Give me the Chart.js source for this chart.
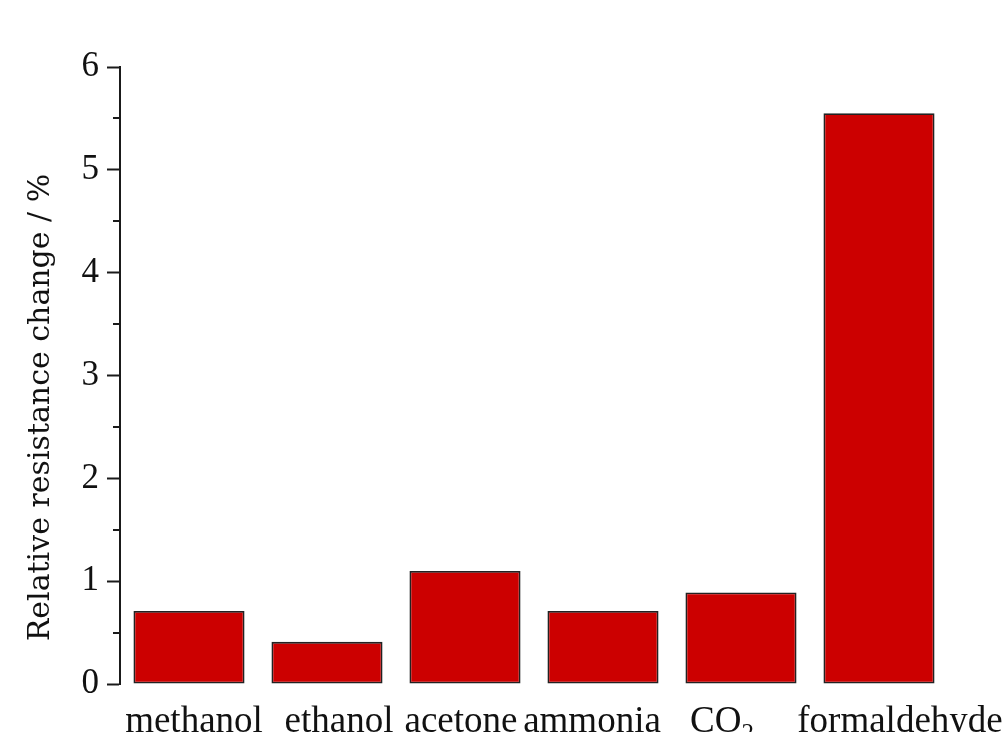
<!DOCTYPE html>
<html>
<head>
<meta charset="utf-8">
<script src="https://cdn.jsdelivr.net/npm/chart.js@4.4.1/dist/chart.umd.min.js"></script>
<style>
  html, body { margin: 0; padding: 0; background: #ffffff; overflow: hidden; }
  #wrap { width: 1003px; height: 732px; }
</style>
</head>
<body>
<div id="wrap"><canvas id="chart" width="1003" height="732"></canvas></div>
<script>
// Gas species tested and the sensor response to each
const gases = ['methanol', 'ethanol', 'acetone', 'ammonia', 'CO\u2082', 'formaldehyde'];
const response = [0.71, 0.41, 1.10, 0.71, 0.89, 5.55];
const yTicks = [0, 1, 2, 3, 4, 5, 6];
const yTitle = 'Relative resistance change / %';

const axisColor = '#1a1a1a';
const textColor = '#111111';
const labelFont = '37px "Liberation Serif"';
const subFont = '25px "Liberation Serif"';
// small hand-placed horizontal nudges for the category names
const labelNudge = [5, 12, -4, -11, -19, 21];

// Short half-step ticks on the left axis
const minorTicks = {
  id: 'minorTicks',
  afterDraw(chart) {
    const y = chart.scales.y;
    const ctx = chart.ctx;
    ctx.save();
    ctx.strokeStyle = axisColor;
    ctx.lineWidth = 2;
    y.ticks.forEach(t => {
      if (Number.isInteger(t.value)) return;
      const py = Math.round(y.getPixelForValue(t.value));
      ctx.beginPath();
      ctx.moveTo(y.right - 7, py);
      ctx.lineTo(y.right, py);
      ctx.stroke();
    });
    ctx.restore();
  }
};

// Category names (with a proper subscript for CO2) and the rotated y title
const axisText = {
  id: 'axisText',
  afterDraw(chart) {
    const ctx = chart.ctx;
    const x = chart.scales.x;
    const area = chart.chartArea;
    ctx.save();
    ctx.fillStyle = textColor;
    ctx.textBaseline = 'alphabetic';
    const baseY = area.bottom + 48;
    gases.forEach((name, i) => {
      const cx = x.getPixelForValue(i) + labelNudge[i];
      const m = name.match(/^(.*?)([\u2080-\u2089]+)$/);
      if (m) {
        const base = m[1];
        const sub = m[2].replace(/[\u2080-\u2089]/g, c => String(c.charCodeAt(0) - 0x2080));
        ctx.font = labelFont;
        const wb = ctx.measureText(base).width;
        ctx.font = subFont;
        const ws = ctx.measureText(sub).width;
        const left = cx - (wb + ws) / 2;
        ctx.textAlign = 'left';
        ctx.font = labelFont;
        ctx.fillText(base, left, baseY);
        ctx.font = subFont;
        ctx.fillText(sub, left + wb, baseY + 9);
      } else {
        ctx.textAlign = 'center';
        ctx.font = labelFont;
        ctx.fillText(name, cx, baseY);
      }
    });
    // y axis title
    ctx.translate(41, (area.top + area.bottom) / 2 + 32);
    ctx.rotate(-Math.PI / 2);
    ctx.textAlign = 'center';
    ctx.textBaseline = 'middle';
    ctx.font = '30px "DejaVu Serif"';
    ctx.fillText(yTitle, 0, 0);
    ctx.restore();
  }
};

new Chart(document.getElementById('chart'), {
  type: 'bar',
  data: {
    labels: gases,
    datasets: [{
      data: response,
      backgroundColor: '#cc0000',
      borderColor: '#222222',
      borderWidth: 1.8,
      borderSkipped: false,
      categoryPercentage: 1.0,
      barPercentage: 0.805
    }]
  },
  options: {
    responsive: false,
    animation: false,
    layout: { padding: { top: 67, right: 55, left: 0, bottom: 0 } },
    plugins: { legend: { display: false }, tooltip: { enabled: false } },
    scales: {
      x: {
        offset: true,
        grid: { display: false, drawTicks: false },
        border: { display: false },
        ticks: { display: false },
        afterFit(scale) { scale.height = 48; }
      },
      y: {
        min: 0,
        max: 6,
        afterBuildTicks(scale) {
          // whole-number labels plus unlabelled half steps
          const out = [];
          yTicks.forEach((v, i) => {
            out.push({ value: v });
            if (i < yTicks.length - 1) out.push({ value: v + 0.5 });
          });
          scale.ticks = out;
        },
        grid: {
          drawOnChartArea: false,
          drawTicks: true,
          tickLength: 13,
          tickWidth: 2,
          tickColor: c => (Number.isInteger(c.tick && c.tick.value) ? axisColor : 'rgba(0,0,0,0)')
        },
        border: { display: true, color: axisColor, width: 2 },
        ticks: {
          color: textColor,
          font: { family: 'Liberation Serif', size: 35 },
          padding: 8,
          callback: v => (Number.isInteger(v) ? String(v) : '')
        },
        afterFit(scale) { scale.width = 120; }
      }
    }
  },
  plugins: [minorTicks, axisText]
});
</script>
</body>
</html>
